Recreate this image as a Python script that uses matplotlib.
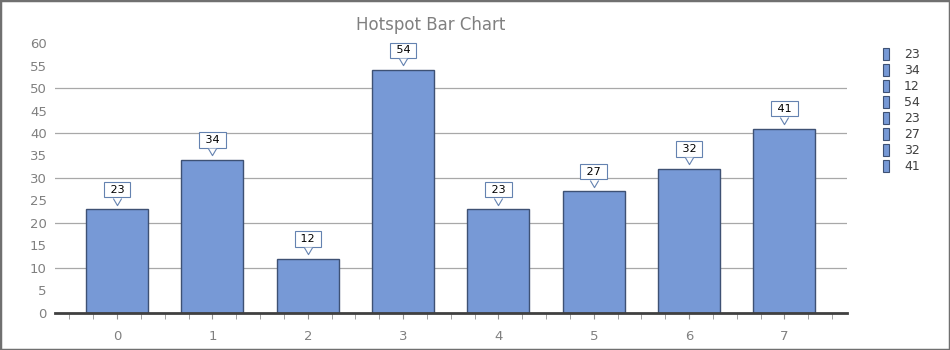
import numpy as np
import matplotlib.pyplot as plt
from matplotlib.patches import Patch, Rectangle
from matplotlib import transforms

# data
cats = [0, 1, 2, 3, 4, 5, 6, 7]
values = [23, 34, 12, 54, 23, 27, 32, 41]
legend_labels = [str(v) for v in values]

bar_col = '#7799d6'
edge_col = '#3e5174'
grey = '#808080'
call_col = '#6482b0'

fig = plt.figure(figsize=(9.5, 3.5), dpi=100)
ax = fig.add_axes([0.058, 0.106, 0.834, 0.771])

ax.bar(cats, values, width=0.65, color=bar_col, edgecolor=edge_col, linewidth=1, zorder=3)

ax.set_xlim(-0.65, 7.66)
ax.set_ylim(0, 60)
ax.set_yticks(np.arange(0, 61, 5))
ax.set_xticks(cats)
ax.set_xticks(np.arange(-0.5, 7.51, 0.25), minor=True)
for y in range(10, 60, 10):
    ax.axhline(y, color='#a8a8a8', linewidth=0.9, zorder=1)

for s in ['top', 'right', 'left']:
    ax.spines[s].set_visible(False)
ax.spines['bottom'].set_color('#404040')
ax.spines['bottom'].set_linewidth(2)
ax.spines['bottom'].set_zorder(4)
ax.tick_params(axis='y', length=0, labelsize=9.5, labelcolor=grey, pad=6)
ax.tick_params(axis='x', which='major', length=4, color='#909090', labelsize=9.5, labelcolor=grey, pad=8)
ax.tick_params(axis='x', which='minor', length=4, color='#909090')

# callout labels: box plus a small open pointer
pointer = [(-1, 0.95), (0, -0.75), (1, 0.95)]
tip = transforms.offset_copy(ax.transData, fig=fig, y=5.6, units='points')
for x, v in zip(cats, values):
    ax.annotate(' %d ' % v, xy=(x, v), xytext=(0, 14.3), textcoords='offset points',
                ha='center', va='center', fontsize=8, color='black', zorder=6,
                bbox=dict(boxstyle='square,pad=0.24', fc='white', ec=call_col, lw=0.8))
    ax.plot(x, v, marker=pointer, markersize=6, mfc='white', mec=call_col, mew=0.8,
            transform=tip, zorder=7, clip_on=False)

fig.text(0.453, 0.93, 'Hotspot Bar Chart', ha='center', va='center', fontsize=12, color=grey)

handles = [Patch(facecolor=bar_col, edgecolor=edge_col, lw=0.8) for _ in values]
fig.legend(handles, legend_labels, loc='upper left', bbox_to_anchor=(0.918, 0.895),
           frameon=False, fontsize=9, handlelength=0.45, handleheight=1.1,
           handletextpad=1.2, labelspacing=0.22, labelcolor='#404040')

fig.patches.append(Rectangle((0, 0), 1, 1, transform=fig.transFigure, fill=False,
                             ec='#707070', lw=2.5))

fig.savefig('out.png', dpi=100)
